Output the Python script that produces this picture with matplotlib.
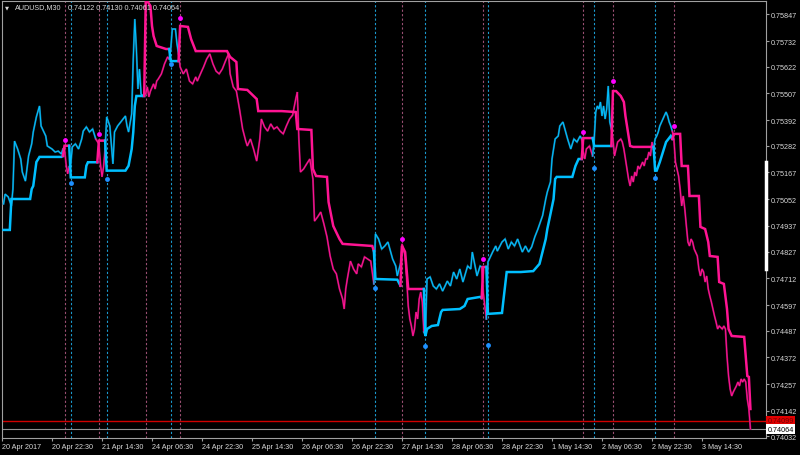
import matplotlib.pyplot as plt
from matplotlib import transforms

plt.rcParams['font.family'] = ['Liberation Sans', 'DejaVu Sans']

# AUDUSD M30, bar index from 20 Apr 2017 00:00
bars = [
    1, 2, 4, 6, 7, 8, 10, 12, 13, 15,
    17, 19, 20, 22, 24, 25, 28, 29, 32, 34,
    36, 38, 39, 40, 41, 42, 43, 44, 45, 47,
    49, 51, 52, 54, 56, 58, 60, 62, 63, 64,
    65, 66, 67, 69, 71, 72, 74, 76, 79, 80,
    81, 83, 84, 85, 86, 87, 88, 89, 90, 91,
    92, 93, 94, 95, 97, 98, 99, 100, 102, 103,
    104, 106, 107, 108, 109, 111, 112, 113, 114, 116,
    118, 120, 122, 124, 125, 127, 129, 131, 133, 135,
    137, 139, 141, 143, 145, 146, 148, 150, 152, 154,
    156, 157, 159, 161, 163, 165, 166, 168, 170, 172,
    174, 176, 178, 180, 182, 184, 186, 188, 189, 190,
    191, 193, 195, 197, 199, 200, 202, 204, 206, 208,
    210, 212, 214, 216, 218, 219, 220, 221, 223, 225,
    227, 228, 230, 232, 234, 236, 238, 239, 241, 243,
    245, 247, 250, 252, 253, 255, 256, 258, 259, 260,
    261, 262, 263, 264, 265, 266, 267, 268, 269, 270,
    271, 272, 274, 276, 278, 280, 282, 285, 287, 289,
    291, 293, 295, 298, 300, 301, 304, 306, 307, 308,
    309, 310, 311, 314, 316, 317, 320, 322, 324, 326,
    328, 330, 333, 335, 337, 339, 341, 343, 346, 348,
    349, 351, 352, 354, 356, 357, 359, 362, 364, 366,
    368, 370, 371, 372, 373, 374, 376, 378, 379, 380,
    381, 382, 383, 384, 385, 386, 387, 388, 389, 390,
    391, 392, 393, 394, 396, 397, 398, 399, 400, 401,
    402, 403, 404, 405, 406, 407, 408, 410, 411, 412,
    413, 414, 415, 416, 417, 418, 419, 420, 421, 423,
    425, 426, 427, 428, 429, 430, 431, 432, 433, 434,
    435, 436, 437, 438, 439, 440, 441, 442, 443, 445,
    446, 447, 448, 449, 450, 451, 452, 453, 454, 455,
    456, 457, 458, 459, 461, 462, 463, 464, 465, 466,
    467, 468, 469, 470, 471, 472, 473, 474, 475, 476,
    477, 478, 479,
]
close = [
    0.75032, 0.75074, 0.75062, 0.75023, 0.75096, 0.75302, 0.75268, 0.75225, 0.75169, 0.75130,
    0.75238, 0.75290, 0.75341, 0.75406, 0.75453, 0.75367, 0.75324, 0.75281, 0.75268, 0.75255,
    0.75259, 0.75247, 0.75268, 0.75268, 0.75204, 0.75161, 0.75191, 0.75204, 0.75277, 0.75290,
    0.75268, 0.75311, 0.75345, 0.75363, 0.75341, 0.75354, 0.75311, 0.75290, 0.75204, 0.75148,
    0.75191, 0.75268, 0.75406, 0.75367, 0.75204, 0.75341, 0.75367, 0.75384, 0.75410, 0.75367,
    0.75341, 0.75419, 0.75655, 0.75827, 0.75698, 0.75526, 0.75612, 0.75505, 0.75496, 0.75505,
    0.75505, 0.75535, 0.75492, 0.75517, 0.75548, 0.75526, 0.75560, 0.75569, 0.75591, 0.75612,
    0.75634, 0.75664, 0.75655, 0.75698, 0.75784, 0.75784, 0.75720, 0.75677, 0.75621, 0.75591,
    0.75612, 0.75560, 0.75548, 0.75578, 0.75560, 0.75591, 0.75621, 0.75655, 0.75677, 0.75634,
    0.75603, 0.75591, 0.75612, 0.75646, 0.75677, 0.75591, 0.75535, 0.75517, 0.75440, 0.75354,
    0.75302, 0.75281, 0.75311, 0.75268, 0.75216, 0.75311, 0.75397, 0.75363, 0.75345, 0.75376,
    0.75354, 0.75363, 0.75345, 0.75333, 0.75367, 0.75397, 0.75414, 0.75483, 0.75513, 0.75311,
    0.75169, 0.75182, 0.75204, 0.75225, 0.75139, 0.74958, 0.74976, 0.74997, 0.74946, 0.74890,
    0.74808, 0.74752, 0.74731, 0.74666, 0.74623, 0.74580, 0.74666, 0.74709, 0.74786, 0.74752,
    0.74731, 0.74774, 0.74761, 0.74804, 0.74795, 0.74786, 0.74688, 0.74903, 0.74881, 0.74838,
    0.74851, 0.74868, 0.74795, 0.74765, 0.74722, 0.74774, 0.74860, 0.74808, 0.74709, 0.74593,
    0.74537, 0.74507, 0.74464, 0.74494, 0.74567, 0.74537, 0.74623, 0.74653, 0.74610, 0.74481,
    0.74464, 0.74709, 0.74718, 0.74679, 0.74666, 0.74688, 0.74657, 0.74700, 0.74679, 0.74739,
    0.74709, 0.74752, 0.74696, 0.74765, 0.74752, 0.74825, 0.74722, 0.74765, 0.74761, 0.74653,
    0.74593, 0.74537, 0.74782, 0.74825, 0.74851, 0.74829, 0.74868, 0.74881, 0.74838, 0.74868,
    0.74851, 0.74881, 0.74825, 0.74851, 0.74825, 0.74847, 0.74890, 0.74924, 0.74982, 0.75053,
    0.75083, 0.75126, 0.75225, 0.75311, 0.75324, 0.75367, 0.75384, 0.75311, 0.75268, 0.75311,
    0.75298, 0.75324, 0.75311, 0.75255, 0.75225, 0.75268, 0.75281, 0.75238, 0.75311, 0.75427,
    0.75453, 0.75440, 0.75470, 0.75410, 0.75453, 0.75397, 0.75440, 0.75539, 0.75384, 0.75354,
    0.75311, 0.75238, 0.75268, 0.75298, 0.75311, 0.75298, 0.75268, 0.75225, 0.75182, 0.75139,
    0.75109, 0.75152, 0.75126, 0.75169, 0.75152, 0.75195, 0.75182, 0.75212, 0.75195, 0.75225,
    0.75225, 0.75255, 0.75238, 0.75298, 0.75268, 0.75311, 0.75324, 0.75341, 0.75367, 0.75397,
    0.75427, 0.75410, 0.75384, 0.75367, 0.75345, 0.75311, 0.75212, 0.75182, 0.75152, 0.75096,
    0.75023, 0.75066, 0.75010, 0.74937, 0.74868, 0.74851, 0.74881, 0.74868, 0.74838, 0.74808,
    0.74752, 0.74722, 0.74752, 0.74739, 0.74696, 0.74722, 0.74666, 0.74636, 0.74610, 0.74580,
    0.74550, 0.74524, 0.74494, 0.74507, 0.74494, 0.74507, 0.74494, 0.74378, 0.74292, 0.74236,
    0.74206, 0.74223, 0.74236, 0.74249, 0.74266, 0.74249, 0.74279, 0.74266, 0.74279, 0.74266,
    0.74193, 0.74150, 0.74064,
]

# trailing stop line
stop_bars = [
    1, 5, 6, 18, 19, 20, 22, 24, 38, 39,
    40, 43, 44, 53, 54, 55, 61, 62, 66, 67,
    79, 81, 83, 84, 85, 86, 91, 92, 93, 95,
    96, 97, 99, 105, 107, 108, 113, 114, 119, 121,
    124, 144, 146, 150, 151, 157, 163, 164, 179, 188,
    189, 198, 199, 201, 208, 209, 212, 216, 218, 237,
    238, 239, 253, 255, 256, 258, 260, 270, 271, 272,
    275, 279, 281, 282, 293, 296, 298, 306, 307, 308,
    310, 311, 320, 321, 323, 332, 340, 344, 348, 349,
    351, 353, 354, 355, 365, 367, 369, 371, 372, 378,
    379, 390, 391, 393, 396, 398, 399, 400, 401, 402,
    404, 417, 418, 419, 421, 423, 425, 428, 429, 430,
    434, 435, 439, 440, 446, 447, 450, 452, 453, 458,
    459, 462, 464, 465, 467, 475, 477, 478, 479,
]
stop = [
    0.74920, 0.74920, 0.75053, 0.75053, 0.75096, 0.75109, 0.75212, 0.75234, 0.75234, 0.75238,
    0.75282, 0.75282, 0.75146, 0.75146, 0.75196, 0.75211, 0.75211, 0.75304, 0.75304, 0.75175,
    0.75175, 0.75196, 0.75268, 0.75340, 0.75453, 0.75496, 0.75496, 0.75904, 0.75904, 0.75883,
    0.75797, 0.75754, 0.75711, 0.75698, 0.75698, 0.75646, 0.75646, 0.75797, 0.75793, 0.75741,
    0.75689, 0.75689, 0.75664, 0.75642, 0.75526, 0.75522, 0.75483, 0.75431, 0.75431, 0.75427,
    0.75354, 0.75350, 0.75182, 0.75152, 0.75148, 0.75040, 0.74937, 0.74881, 0.74860, 0.74851,
    0.74829, 0.74709, 0.74706, 0.74680, 0.74852, 0.74825, 0.74666, 0.74666, 0.74464, 0.74494,
    0.74507, 0.74511, 0.74567, 0.74576, 0.74580, 0.74593, 0.74623, 0.74632, 0.74627, 0.74761,
    0.74761, 0.74559, 0.74563, 0.74623, 0.74739, 0.74739, 0.74743, 0.74774, 0.74881, 0.74924,
    0.74988, 0.75053, 0.75139, 0.75148, 0.75148, 0.75195, 0.75225, 0.75225, 0.75315, 0.75315,
    0.75281, 0.75281, 0.75517, 0.75517, 0.75496, 0.75470, 0.75410, 0.75367, 0.75324, 0.75281,
    0.75277, 0.75277, 0.75175, 0.75175, 0.75212, 0.75255, 0.75298, 0.75324, 0.75311, 0.75333,
    0.75333, 0.75195, 0.75195, 0.75066, 0.75066, 0.74933, 0.74924, 0.74868, 0.74808, 0.74804,
    0.74696, 0.74688, 0.74580, 0.74494, 0.74464, 0.74460, 0.74292, 0.74288, 0.74150,
]

# trend change signals
sell_bars = [40, 62, 92, 114, 256, 308, 372, 391, 430]
sell_dot = [0.75307, 0.75333, 0.75935, 0.75830, 0.74881, 0.74794, 0.75341, 0.75559, 0.75367]
buy_bars = [44, 67, 108, 239, 271, 311, 379, 418]
buy_dot = [0.75122, 0.75139, 0.75634, 0.74672, 0.74420, 0.74425, 0.75188, 0.75142]

x_ticks = [0, 32, 64, 96, 128, 160, 192, 224, 256, 288, 320, 352, 384, 416, 448]
x_labels = ['20 Apr 2017', '20 Apr 22:30', '21 Apr 14:30', '24 Apr 06:30', '24 Apr 22:30',
            '25 Apr 14:30', '26 Apr 06:30', '26 Apr 22:30', '27 Apr 14:30', '28 Apr 06:30',
            '28 Apr 22:30', '1 May 14:30', '2 May 06:30', '2 May 22:30', '3 May 14:30']
y_ticks = [0.75847, 0.75732, 0.75622, 0.75507, 0.75392, 0.75282, 0.75167, 0.75052, 0.74937,
           0.74827, 0.74712, 0.74597, 0.74487, 0.74372, 0.74257, 0.74142, 0.74032]

last_close = 0.74064
ask_line = 0.74099

UP, DOWN = '#00BFFF', '#FF1493'
UP_DARK, DOWN_DARK = '#136a8e', '#8e0f58'
FG = '#d8d8d8'
GRID = '#a0a0a0'
FS = 5.2

signals = sorted([(b, 1) for b in buy_bars] + [(b, -1) for b in sell_bars])


def trend(b):
    t = 1
    for sb, s in signals:
        if sb <= b:
            t = s
    return t


def colored_line(ax, xs, ys, lw, z, up=UP, down=DOWN):
    tr = [trend(x) for x in xs]
    start = 0
    for i in range(1, len(xs) + 1):
        if i == len(xs) or tr[i] != tr[start]:
            j = max(start - 1, 0)
            ax.plot(xs[j:i], ys[j:i], color=up if tr[start] > 0 else down,
                    lw=lw, zorder=z, solid_joinstyle='miter')
            start = i


fig = plt.figure(figsize=(8, 4.56), dpi=100, facecolor='black')
ax = fig.add_axes([2 / 800, 1 - 439 / 456, 764 / 800, 437 / 456])
ax.set_facecolor('black')

# signal verticals
for b in sell_bars:
    ax.axvline(b, color='#9a4f72', lw=0.8, ls=(0, (2, 2)), zorder=1)
for b in buy_bars:
    ax.axvline(b, color='#1b9bd0', lw=0.8, ls=(0, (2, 2)), zorder=1)

ax.axhline(last_close, color='#909090', lw=0.8, zorder=2)
ax.axhline(ask_line, color='#d00000', lw=1.0, zorder=2)

# price: darker wick shade under the bright close line
colored_line(ax, bars, close, 1.4, 3, UP_DARK, DOWN_DARK)
colored_line(ax, bars, close, 0.75, 3.5)
colored_line(ax, stop_bars, stop, 1.8, 4)

ax.plot(sell_bars, sell_dot, 'o', color='#FF00FF', ms=3.5, mew=0, zorder=5)
ax.plot(buy_bars, buy_dot, 'o', color='#1E90FF', ms=3.5, mew=0, zorder=5)

ax.set_xlim(0, 488.96)
ax.set_ylim(0.740253, 0.759044)

ax.set_xticks(x_ticks)
ax.set_xticklabels(x_labels)
for lab in ax.get_xticklabels():
    lab.set_horizontalalignment('left')
ax.yaxis.tick_right()
ax.set_yticks(y_ticks)
ax.set_yticklabels([f'{v:.5f}' for v in y_ticks])
ax.tick_params(color=GRID, labelcolor=FG, labelsize=FS, length=2.2, width=0.8, pad=1.5)

for s in ax.spines.values():
    s.set_color(GRID)
    s.set_linewidth(0.8)
ax.plot([1, 1], [0.3867, 0.6316], transform=ax.transAxes, color='white', lw=2.5,
        clip_on=False, zorder=6)

# price boxes on the scale
tr = transforms.blended_transform_factory(ax.transAxes, ax.transData)
ax.text(1.002, ask_line, '0.74099', transform=tr, fontsize=FS, color='#700000', va='center',
        ha='left', bbox=dict(boxstyle='square,pad=0.15', fc='#e00000', ec='none'))
ax.text(1.002, last_close, '0.74064', transform=tr, fontsize=FS, color='black', va='center',
        ha='left', bbox=dict(boxstyle='square,pad=0.15', fc='white', ec='none'))

# header
fig.text(5 / 800, 1 - 8 / 456, '\u25bc', fontsize=3.8, color=FG, va='center',
         family='DejaVu Sans')
fig.text(15 / 800, 1 - 8 / 456, 'AUDUSD,M30', fontsize=FS, color=FG, va='center')
fig.text(68 / 800, 1 - 8 / 456, '0.74122 0.74130 0.74061 0.74064', fontsize=FS,
         color=FG, va='center')

fig.savefig('out.png', dpi=100, facecolor='black')
